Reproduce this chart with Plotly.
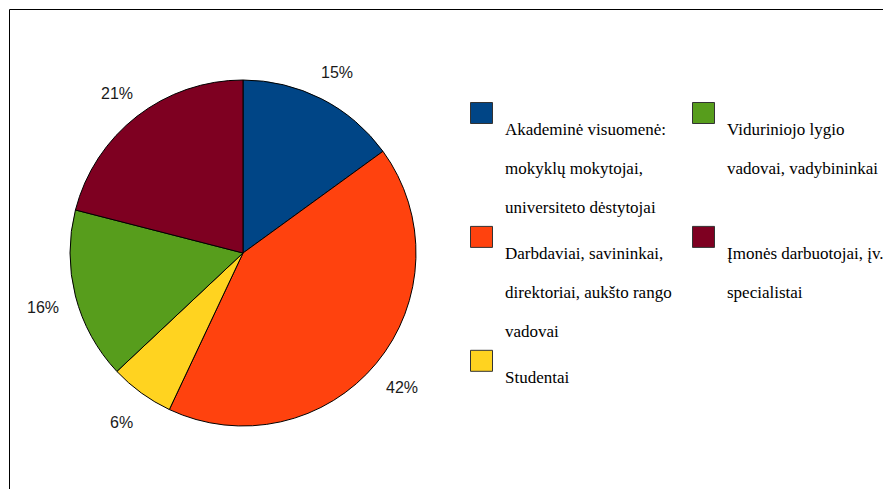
import math
import plotly.graph_objects as go

categories = [
    "Akademinė visuomenė: mokyklų mokytojai, universiteto dėstytojai",
    "Darbdaviai, savininkai, direktoriai, aukšto rango vadovai",
    "Studentai",
    "Viduriniojo lygio vadovai, vadybininkai",
    "Įmonės darbuotojai, įv. specialistai",
]
values = [15, 42, 6, 16, 21]
colors = ["#004586", "#ff420e", "#ffd320", "#579d1c", "#7e0021"]
legend_lines = [
    ["Akademinė visuomenė:", "mokyklų mokytojai,", "universiteto dėstytojai"],
    ["Darbdaviai, savininkai,", "direktoriai, aukšto rango", "vadovai"],
    ["Studentai"],
    ["Viduriniojo lygio", "vadovai, vadybininkai"],
    ["Įmonės darbuotojai, įv.", "specialistai"],
]
legend_rows = [[0, 3], [1, 4], [2]]

# page has an 8px body margin; size figure so the page fits 891x497
OFF = 8
FW, FH = 891 - 2 * OFF, 497 - 2 * OFF


def fx(X):
    return (X - OFF) / FW


def fy(Y):
    return 1 - (Y - OFF) / FH


cx, cy, r = 243, 253, 173
SANS = "Liberation Sans, Arial, sans-serif"
SERIF = "Liberation Serif, Times New Roman, serif"

fig = go.Figure()
fig.add_trace(go.Pie(
    labels=categories, values=values, sort=False, direction="clockwise", rotation=0,
    marker=dict(colors=colors, line=dict(color="#000000", width=1)),
    textinfo="none", showlegend=False, hoverinfo="label+percent",
    domain=dict(x=[fx(cx - r), fx(cx + r)], y=[fy(cy + r), fy(cy - r)]),
))

annotations = []
shapes = []

# percentage labels outside the slices, derived from the values
total = sum(values)
cum = 0
for v in values:
    mid = (cum + v / 2) / total * 2 * math.pi
    cum += v
    dx, dy = math.sin(mid), -math.cos(mid)
    R = r + 33
    px, py = cx + R * dx, cy + R * dy + 3
    txt = f"{round(v / total * 100)}%"
    annotations.append(dict(
        x=fx(px), y=fy(py), xref="paper", yref="paper", text=txt, showarrow=False,
        xanchor="center", yanchor="middle",
        font=dict(family=SANS, size=16, color="#1a1a1a"),
    ))

# legend (two columns)
LS = 39.3
top = 102
col_sq = [470.5, 692.5]
col_tx = [503, 725]
for row in legend_rows:
    nmax = max(len(legend_lines[i]) for i in row)
    for col, i in enumerate(row):
        sx = col_sq[col]
        shapes.append(dict(type="rect", xref="paper", yref="paper",
                           x0=fx(sx), x1=fx(sx + 22), y0=fy(top + 22 - 0.5), y1=fy(top + 0.5),
                           fillcolor=colors[i], line=dict(color="#333333", width=1)))
        for j, line in enumerate(legend_lines[i]):
            base = top + 33 + j * LS
            annotations.append(dict(
                x=fx(col_tx[col]), y=fy(base - 5.7), xref="paper", yref="paper",
                text=line, showarrow=False, xanchor="left", yanchor="middle",
                font=dict(family=SERIF, size=17, color="#000000"),
            ))
    top += nmax * LS + 6

# outer frame
shapes.append(dict(type="rect", xref="paper", yref="paper", x0=fx(9.5), x1=1.05, y0=-0.05, y1=fy(9.5),
                   line=dict(color="#000000", width=1), fillcolor="rgba(0,0,0,0)", layer="above"))

fig.update_layout(
    width=FW, height=FH, margin=dict(l=0, r=0, t=0, b=0),
    paper_bgcolor="white", plot_bgcolor="white",
    annotations=annotations, shapes=shapes, showlegend=False,
)

fig.write_html("out.html")
